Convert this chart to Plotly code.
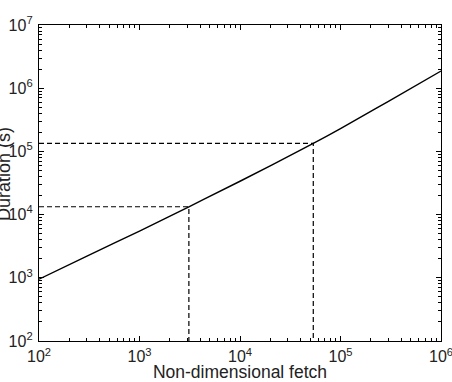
import plotly.graph_objects as go

# Data
fetch = [1e2, 3e2, 1e3, 3.1e3, 1e4, 5.36e4, 1e5, 3e5, 1e6]
duration = [950, 2200, 5500, 1.33e4, 3.37e4, 1.34e5, 2.3e5, 6.2e5, 1.87e6]

mark_fetch = [3.1e3, 5.36e4]
mark_duration = [1.33e4, 1.34e5]

x_tickvals = [1e2, 1e3, 1e4, 1e5, 1e6]
x_ticktext = ["10<sup>2</sup>", "10<sup>3</sup>", "10<sup>4</sup>", "10<sup>5</sup>", "10<sup>6</sup>"]
y_tickvals = [1e2, 1e3, 1e4, 1e5, 1e6, 1e7]
y_ticktext = ["10<sup>2</sup>", "10<sup>3</sup>", "10<sup>4</sup>", "10<sup>5</sup>", "10<sup>6</sup>", "10<sup>7</sup>"]

FONT = "Liberation Sans, Arial, sans-serif"

fig = go.Figure()

for fx, dy in zip(mark_fetch, mark_duration):
    fig.add_trace(go.Scatter(
        x=[1e2, fx, fx], y=[dy, dy, 1e2], mode="lines",
        line=dict(color="black", width=1.2, dash="5px,3px"),
        showlegend=False, hoverinfo="skip"))

fig.add_trace(go.Scatter(
    x=fetch, y=duration, mode="lines", line=dict(color="black", width=1.4, shape="spline"),
    showlegend=False))

axis_common = dict(
    type="log", showgrid=False, zeroline=False, showline=True, linecolor="black", linewidth=1.3,
    mirror="allticks", ticks="inside", ticklen=5, tickcolor="black", tickwidth=1,
    minor=dict(ticks="inside", ticklen=3, tickcolor="black", tickwidth=1, showgrid=False, dtick="D1"),
    tickfont=dict(family=FONT, size=16, color="#222"), automargin=False,
    ticklabeloverflow="allow",
)

fig.update_xaxes(range=[2, 6], tickvals=x_tickvals, ticktext=x_ticktext, **axis_common,
                 ticklabelstandoff=1,
                 title=dict(text="Non-dimensional fetch", font=dict(family=FONT, size=17.5, color="#222"), standoff=1))
fig.update_yaxes(range=[2, 7], tickvals=y_tickvals, ticktext=y_ticktext, ticklabelstandoff=2, **axis_common)

fig.add_annotation(text="Duration (s)", textangle=-90, xref="paper", yref="paper",
                   x=0, y=0.5, xanchor="center", yanchor="middle", xshift=-35, yshift=9, showarrow=False,
                   font=dict(family=FONT, size=18, color="#222"))

fig.update_layout(
    width=452, height=382, plot_bgcolor="white", paper_bgcolor="white",
    margin=dict(l=39, r=11, t=25, b=41),
)

fig.write_html("out.html")
